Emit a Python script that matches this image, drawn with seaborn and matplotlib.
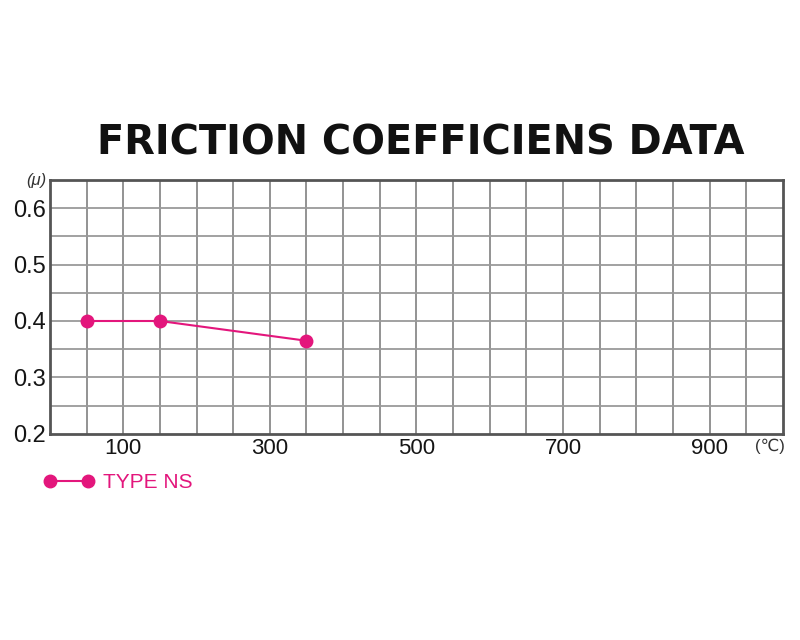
import numpy as np
import pandas as pd
import matplotlib
matplotlib.use("Agg")
import matplotlib.pyplot as plt
import seaborn as sns

# data
temps = [50, 150, 350]
mu = [0.40, 0.40, 0.365]
series_name = "TYPE NS"
x_ticks = [100, 300, 500, 700, 900]
y_ticks = [0.2, 0.3, 0.4, 0.5, 0.6]

pink = "#e3167c"

sns.set_style("white")
plt.rcParams["font.family"] = ["Liberation Sans", "DejaVu Sans"]

df = pd.DataFrame({"temp": temps, "mu": mu, "type": series_name})

fig = plt.figure(figsize=(8, 6.4), dpi=100)
ax = fig.add_axes([0.0625, 0.322, 0.916, 0.397])

# grid every 50 deg / 0.05 mu
for xv in np.arange(50, 1000, 50):
    ax.axvline(xv, color="#8a8a8a", lw=1.3, zorder=1)
for yv in np.arange(0.25, 0.65, 0.05):
    ax.axhline(yv, color="#9a9a9a", lw=1.3, zorder=1)

sns.lineplot(data=df, x="temp", y="mu", hue="type", palette=[pink],
             marker="o", markersize=10, markeredgewidth=0, lw=1.5,
             ax=ax, zorder=3, legend=False)

ax.set_xlim(0, 1000)
ax.set_ylim(0.2, 0.65)
ax.set_xticks(x_ticks)
ax.set_xticklabels([str(t) for t in x_ticks])
ax.set_yticks(y_ticks)
ax.set_yticklabels([f"{t:.1f}" for t in y_ticks])
ax.tick_params(axis="both", length=0, labelsize=16, colors="#151515", pad=3)
ax.tick_params(axis="y", labelsize=17, pad=3)
ax.set_xlabel("")
ax.set_ylabel("")
for sp in ax.spines.values():
    sp.set_color("#555555")
    sp.set_linewidth(2)

fig.text(0.526, 0.776, "FRICTION COEFFICIENS DATA", ha="center", va="center",
         fontsize=28.7, fontweight="bold", color="#111111", family="DejaVu Sans")
fig.text(0.045, 0.718, "(\u03bc)", ha="center", va="center", fontsize=12,
         color="#333333", style="italic")
fig.text(0.963, 0.303, "(\u2103)", ha="center", va="center", fontsize=12,
         color="#333333")

# legend drawn as a small sample line
h, = ax.plot([], [], color=pink, marker="o", markersize=9, lw=1.5)
fig.legend([h], [series_name], loc="center left", bbox_to_anchor=(0.055, 0.246),
           frameon=False, numpoints=2, handlelength=2.43, handletextpad=0.41,
           borderpad=0, borderaxespad=0, fontsize=15, labelcolor=pink)

fig.savefig("out.png", dpi=100)
